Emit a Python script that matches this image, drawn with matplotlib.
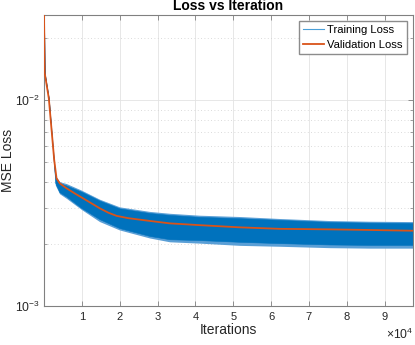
import numpy as np
import matplotlib
matplotlib.use("Agg")
import matplotlib.pyplot as plt
from matplotlib.lines import Line2D
from matplotlib.ticker import FixedLocator, LogLocator, NullFormatter

plt.rcParams['font.family'] = ['Liberation Sans', 'DejaVu Sans']
plt.rcParams['mathtext.fontset'] = 'custom'
plt.rcParams['mathtext.rm'] = 'Liberation Sans'
plt.rcParams['mathtext.it'] = 'Liberation Sans:italic'
plt.rcParams['mathtext.bf'] = 'Liberation Sans:bold'

# Validation loss (iteration, value)
val_iter = [0, 200, 1270, 2700, 3310, 4180, 5950, 8150, 10370, 12570, 14760,
            16980, 19180, 22280, 27900, 33200, 41100, 51700, 62300, 75500,
            86000, 97500]
val_loss = [0.0259, 0.0135, 0.0102, 0.00511, 0.00417, 0.00394, 0.00373,
            0.00352, 0.00333, 0.00315, 0.00298, 0.00284, 0.00274, 0.00267,
            0.00259, 0.00252, 0.00247, 0.00241, 0.00237, 0.002356, 0.00234,
            0.00232]

# Training loss: the noisy band
train_iter = [0, 200, 1270, 3000, 4100, 5950, 9920, 14700, 19970, 27900, 33200,
              41100, 51700, 62300, 75500, 86000, 97500]
# dense core of the band
train_upper = [0.0259, 0.0135, 0.0102, 0.00425, 0.00395, 0.00385, 0.00359,
               0.00325, 0.00298, 0.00283, 0.00277, 0.00271, 0.00267, 0.00262,
               0.00256, 0.00254, 0.00253]
train_lower = [0.0259, 0.0135, 0.0102, 0.00395, 0.00357, 0.00340, 0.00299,
               0.00264, 0.00239, 0.00219, 0.00211, 0.00209, 0.00205, 0.00202,
               0.00199, 0.00198, 0.00198]
# reach of the spikes (lighter fringe)
train_spike_upper = [0.0259, 0.0135, 0.0102, 0.00430, 0.00402, 0.00393, 0.00365,
                     0.00330, 0.00303, 0.00288, 0.00282, 0.00276, 0.00272,
                     0.00266, 0.00260, 0.00258, 0.00257]
train_spike_lower = [0.0259, 0.0135, 0.0102, 0.00386, 0.00351, 0.00333, 0.00294,
                     0.00257, 0.00234, 0.00214, 0.00205, 0.00202, 0.00197,
                     0.00195, 0.00192, 0.00191, 0.00191]

x_ticks = [10000, 20000, 30000, 40000, 50000, 60000, 70000, 80000, 90000]
x_ticklabels = ['1', '2', '3', '4', '5', '6', '7', '8', '9']

blue = '#0072BD'
light_blue = '#5a9fd6'
orange = '#D95319'
axcol = '#808080'
txtcol = '#262626'

fig = plt.figure(figsize=(4.15, 3.45), dpi=100)
ax = fig.add_axes([44/415, 1-306/345, (413-44)/415, (306-15)/345])

ax.fill_between(train_iter, train_spike_lower, train_spike_upper,
                color=light_blue, lw=0, zorder=2)
ax.fill_between(train_iter, train_lower, train_upper, color=blue, lw=0.4,
                edgecolor=blue, zorder=2.1)
ax.plot(val_iter, val_loss, color=orange, lw=1.3, zorder=3)

ax.set_yscale('log')
ax.set_xlim(0, 97500)
ax.set_ylim(1e-3, 0.0259)

ax.xaxis.set_major_locator(FixedLocator(x_ticks))
ax.set_xticklabels(x_ticklabels)
ax.yaxis.set_major_locator(LogLocator(base=10))
ax.yaxis.set_minor_locator(LogLocator(base=10, subs=np.arange(2, 10)))
ax.yaxis.set_minor_formatter(NullFormatter())

ax.tick_params(which='both', direction='in', top=True, right=True,
               colors=axcol, labelcolor=txtcol)
ax.tick_params(axis='x', labelsize=8, pad=4)
ax.tick_params(axis='y', labelsize=8.7, pad=3)
ax.tick_params(which='major', length=3.5, width=0.6)
ax.tick_params(which='minor', length=2, width=0.5)

for s in ax.spines.values():
    s.set_color(axcol)
    s.set_linewidth(0.8)

ax.grid(True, which='major', color='#e3e3e3', lw=0.6, ls='-')
ax.grid(True, which='minor', axis='y', color='#cfcfcf', lw=0.6, ls=(0, (1, 3)))
ax.set_axisbelow(True)

ax.set_title('Loss vs Iteration', fontsize=10, fontweight='bold', pad=3.5,
             color='black')
ax.set_xlabel('Iterations', fontsize=10, color=txtcol, labelpad=1)
ax.set_ylabel('MSE Loss', fontsize=10, color=txtcol)
ax.yaxis.set_label_coords((15 - 44) / 369, 0.5)
ax.text(1.0, -0.07, r'$\times10^{4}$', transform=ax.transAxes, ha='right',
        va='top', fontsize=8.7, color=txtcol)

handles = [Line2D([], [], color='#4a9fd8', lw=0.8),
           Line2D([], [], color=orange, lw=1.3)]
leg = ax.legend(handles, ['Training Loss', 'Validation Loss'], loc='upper right',
                fontsize=8.1, frameon=True, fancybox=False, framealpha=1,
                edgecolor='#8c8c8c', borderpad=0.35, labelspacing=0.4,
                handlelength=1.9, handletextpad=0.3, borderaxespad=0.55)
leg.get_frame().set_linewidth(1.0)
leg.set_zorder(5)

fig.savefig('out.png', dpi=100)
